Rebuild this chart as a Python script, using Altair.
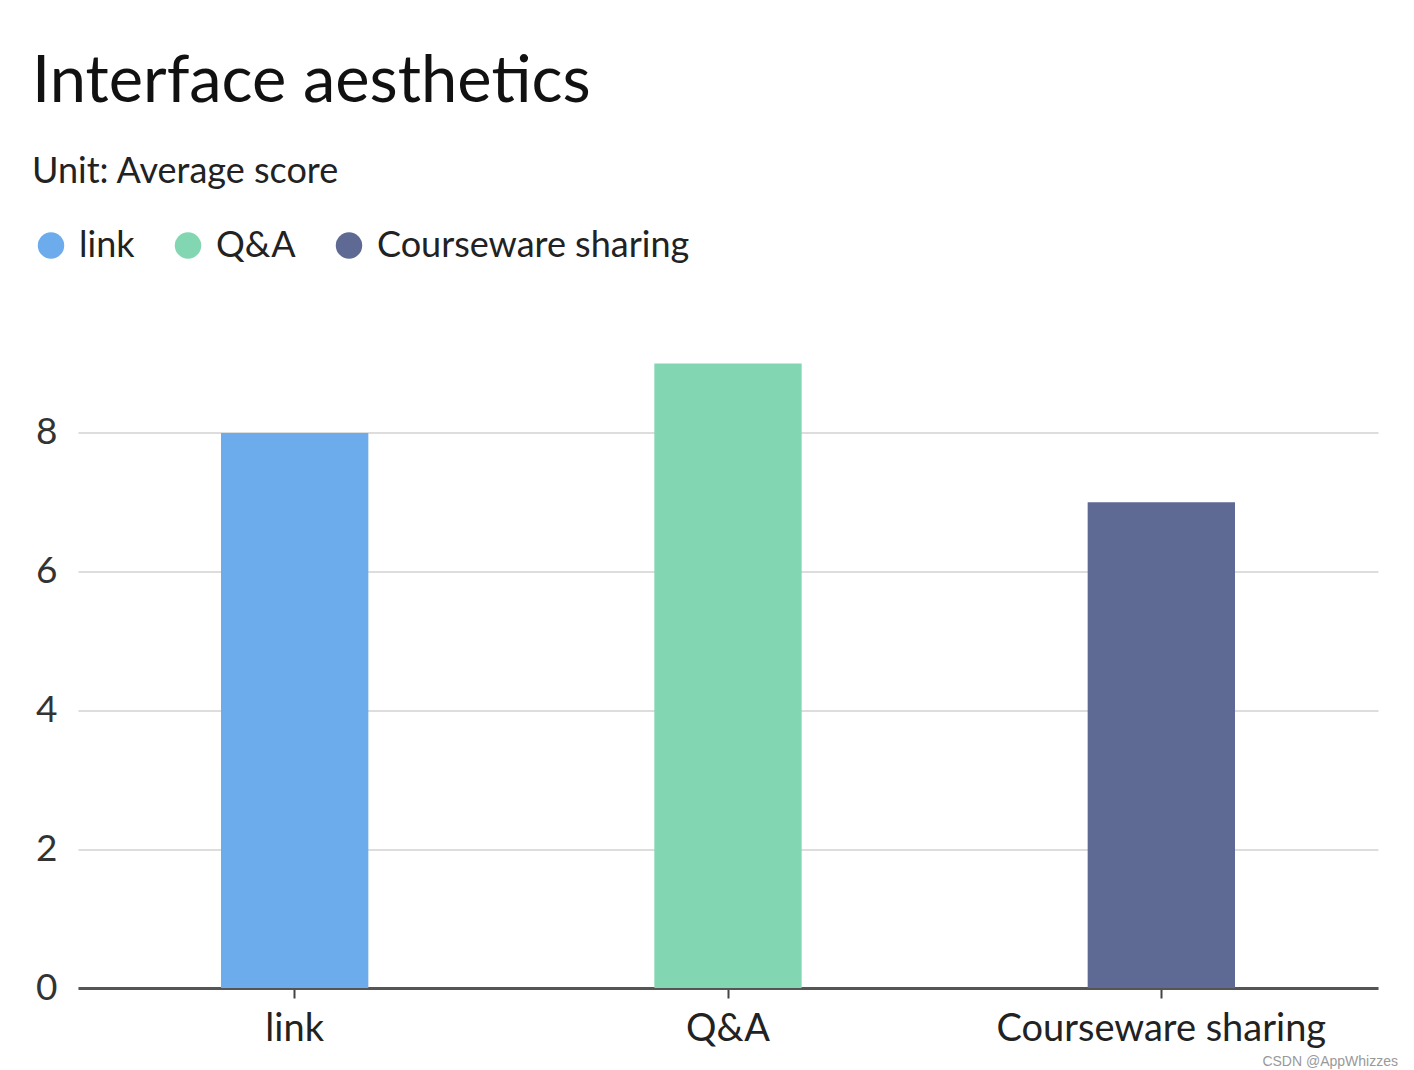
import altair as alt
import pandas as pd

categories = ["link", "Q&A", "Courseware sharing"]
values = [8, 9, 7]
colors = ["#6CACEC", "#83D6B2", "#5E6A94"]
y_ticks = [0, 2, 4, 6, 8]

df = pd.DataFrame({"category": categories, "value": values})
FONT = "Lato"

bars = alt.Chart(df).mark_bar().encode(
    x=alt.X("category:N", sort=categories, title=None,
            scale=alt.Scale(paddingInner=0.66, paddingOuter=0.33),
            axis=alt.Axis(labelAngle=0, labelFontSize=38, labelColor="#222",
                          labelFont=FONT, labelPadding=12, tickSize=10,
                          labelLimit=0,
                          tickColor="#444", tickWidth=2, domainColor="#555",
                          domainWidth=3, grid=False)),
    y=alt.Y("value:Q", title=None, scale=alt.Scale(domain=[0, 9], nice=False),
            axis=alt.Axis(values=y_ticks, labelFontSize=37, labelColor="#333",
                          labelFont=FONT, labelPadding=21, tickSize=0,
                          domain=False, gridColor="#DDDDDD", gridWidth=2)),
    color=alt.Color("category:N", sort=categories,
                    scale=alt.Scale(domain=categories, range=colors),
                    legend=alt.Legend(orient="none", legendX=-45, legendY=-136,
                                      direction="horizontal", title=None,
                                      symbolType="circle", symbolSize=700,
                                      symbolStrokeWidth=0, labelFontSize=36,
                                      labelFont=FONT, labelColor="#222",
                                      labelLimit=0,
                                      labelOffset=10, columnPadding=35)),
)

credit = alt.Chart(pd.DataFrame({"t": ["CSDN @AppWhizzes"]})).mark_text(
    align="right", baseline="middle", fontSize=14, color="#999", font="Liberation Sans"
).encode(text="t:N", x=alt.value(1320), y=alt.value(698))

chart = alt.layer(bars, credit).properties(
    width=1300, height=624.5,
    background="white",
    padding={"left": 78, "top": 363.5, "right": 36, "bottom": 82},
    autosize=alt.AutoSizeParams(type="none"),
    title=alt.TitleParams(text="Interface aesthetics", subtitle="Unit: Average score",
                          anchor="start", dx=-1, fontSize=65, font=FONT,
                          fontWeight="normal", color="#111",
                          subtitleFontSize=36, subtitleFont=FONT,
                          subtitleColor="#222", subtitlePadding=39, offset=37),
).configure_view(strokeWidth=0)

chart.save("out.html", embed_options={"renderer": "svg", "actions": False})
